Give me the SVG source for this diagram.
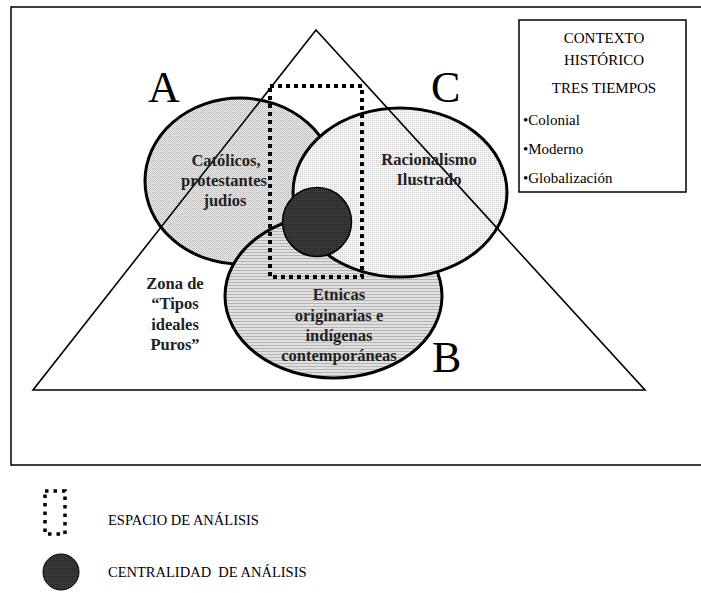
<svg xmlns="http://www.w3.org/2000/svg" width="701" height="593" viewBox="0 0 701 593">
  <defs>
    <!-- fine screen textures for the three groups -->
    <pattern id="texA" width="2" height="2" patternUnits="userSpaceOnUse">
      <rect width="2" height="2" fill="#ececec"/>
      <rect x="0" y="0" width="1" height="1" fill="#b8b8b8"/>
      <rect x="1" y="1" width="1" height="1" fill="#c8c8c8"/>
    </pattern>
    <pattern id="texB" width="3" height="3" patternUnits="userSpaceOnUse">
      <rect width="3" height="3" fill="#e0e0e0"/>
      <rect x="0" y="0" width="3" height="1" fill="#b4b4b4"/>
    </pattern>
    <pattern id="texC" width="2" height="2" patternUnits="userSpaceOnUse">
      <rect width="2" height="2" fill="#f6f6f6"/>
      <rect x="0" y="0" width="1" height="1" fill="#cccccc"/>
    </pattern>
    <pattern id="texDark" width="2" height="2" patternUnits="userSpaceOnUse">
      <rect width="2" height="2" fill="#3a3a3a"/>
      <rect x="0" y="0" width="1" height="1" fill="#222222"/>
    </pattern>
  </defs>
  <style>
    .frame { fill: none; stroke: #000; stroke-width: 1.5; }
    .set { stroke: #000; stroke-width: 3; }
    .tri { fill: none; stroke: #000; stroke-width: 1.6; stroke-linejoin: miter; }
    .dots { fill: none; stroke: #000; stroke-width: 4; stroke-dasharray: 4 4; }
    .dots-s { fill: none; stroke: #000; stroke-width: 3.5; stroke-dasharray: 3.5 5; }
    .big { font-family: "Liberation Serif", "Times New Roman", serif; font-size: 44px; fill: #000; }
    .lab { font-family: "Liberation Serif", "Times New Roman", serif; font-size: 16.5px; font-weight: bold; fill: #222; text-anchor: middle; }
    .box { font-family: "Liberation Serif", "Times New Roman", serif; font-size: 15px; fill: #000; }
    .leg { font-family: "Liberation Serif", "Times New Roman", serif; font-size: 14.5px; fill: #000; }
  </style>

  <rect width="701" height="593" fill="#fff"/>
  <!-- outer frame (runs off the right edge) -->
  <path class="frame" d="M705,7 H11 V465 H705"/>

  <!-- group ellipses -->
  <g id="set-a">
    <ellipse class="set" cx="240" cy="181" rx="95" ry="83" fill="url(#texA)"/>
  </g>
  <g id="set-b">
    <ellipse class="set" cx="333.5" cy="296" rx="108.5" ry="82" fill="url(#texB)"/>
  </g>
  <g id="set-c">
    <ellipse class="set" cx="400" cy="192.5" rx="107" ry="84.5" fill="url(#texC)"/>
  </g>
  <g id="centro">
    <circle cx="317" cy="222" r="34.5" fill="url(#texDark)" stroke="#000" stroke-width="1.5"/>
  </g>
  <g id="espacio">
    <rect class="dots" x="270" y="86" width="92" height="191"/>
  </g>
  <g id="triangulo">
    <polygon class="tri" points="316,30 33,390 645,390"/>
  </g>

  <!-- corner letters -->
  <text class="big" x="148" y="102">A</text>
  <text class="big" x="431" y="102">C</text>
  <text class="big" x="432" y="372">B</text>

  <!-- labels inside the sets -->
  <text class="lab" x="226" y="166">Católicos,</text>
  <text class="lab" x="224" y="186">protestantes</text>
  <text class="lab" x="225" y="206">judíos</text>

  <text class="lab" x="429" y="165">Racionalismo</text>
  <text class="lab" x="429" y="185">Ilustrado</text>

  <text class="lab" x="339" y="300">Etnicas</text>
  <text class="lab" x="339" y="321">originarias e</text>
  <text class="lab" x="339" y="341">indígenas</text>
  <text class="lab" x="339" y="361">contemporáneas</text>

  <g id="zona">
    <text class="lab" x="175" y="289">Zona de</text>
    <text class="lab" x="175" y="309">“Tipos</text>
    <text class="lab" x="175" y="330">ideales</text>
    <text class="lab" x="175" y="350">Puros”</text>
  </g>

  <!-- historical context box -->
  <g id="contexto">
    <rect class="frame" x="519" y="20" width="167" height="172"/>
    <text class="box" x="604" y="43" text-anchor="middle">CONTEXTO</text>
    <text class="box" x="604" y="65" text-anchor="middle">HISTÓRICO</text>
    <text class="box" x="604" y="93" text-anchor="middle">TRES TIEMPOS</text>
    <text class="box" x="523" y="125">•Colonial</text>
    <text class="box" x="523" y="154">•Moderno</text>
    <text class="box" x="523" y="183">•Globalización</text>
  </g>

  <!-- legend -->
  <g id="leyenda-espacio">
    <rect class="dots-s" x="45" y="491" width="20" height="43"/>
    <text class="leg" x="108" y="525">ESPACIO DE ANÁLISIS</text>
  </g>
  <g id="leyenda-centro">
    <circle cx="61" cy="572" r="18" fill="url(#texDark)" stroke="#000" stroke-width="1"/>
    <text class="leg" x="108" y="577" xml:space="preserve">CENTRALIDAD  DE ANÁLISIS</text>
  </g>
</svg>
